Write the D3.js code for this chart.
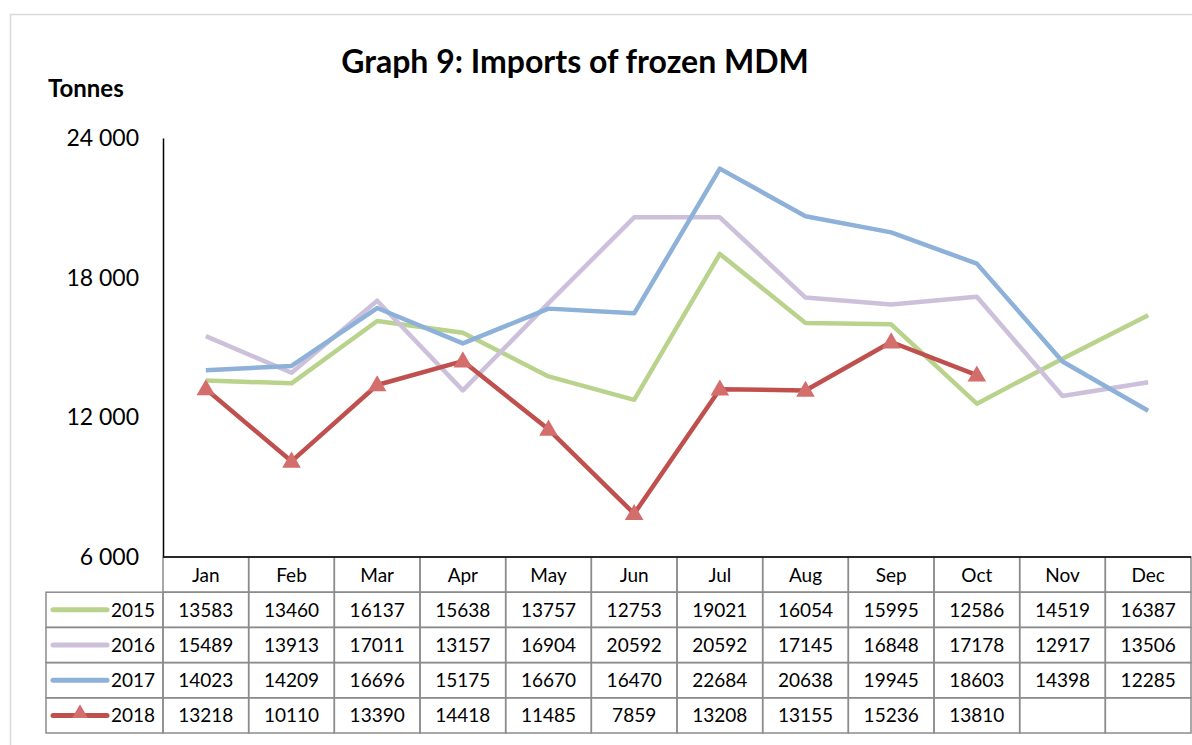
<!DOCTYPE html>
<html>
<head>
<meta charset="utf-8">
<script src="https://cdn.jsdelivr.net/npm/d3@7"></script>
<style>
  body { margin: 0; background: #fff; }
  svg { font-family: Lato, "Open Sans", sans-serif; }
</style>
</head>
<body>
<svg width="1192" height="745"></svg>
<script>
var months = ["Jan", "Feb", "Mar", "Apr", "May", "Jun", "Jul", "Aug", "Sep", "Oct", "Nov", "Dec"];
var years = ["2015", "2016", "2017", "2018"];
var v2015 = [13583, 13460, 16137, 15638, 13757, 12753, 19021, 16054, 15995, 12586, 14519, 16387];
var v2016 = [15489, 13913, 17011, 13157, 16904, 20592, 20592, 17145, 16848, 17178, 12917, 13506];
var v2017 = [14023, 14209, 16696, 15175, 16670, 16470, 22684, 20638, 19945, 18603, 14398, 12285];
var v2018 = [13218, 10110, 13390, 14418, 11485, 7859, 13208, 13155, 15236, 13810, null, null];
var yTicks = [6000, 12000, 18000, 24000];
var colors = ["#b9d38c", "#ccc0da", "#8db1d9", "#c0504d"];

var series = [v2015, v2016, v2017, v2018];

var svg = d3.select("svg");
var margin = { left: 163, right: 1191, top: 138, bottom: 557 };

// outer frame
svg.append("rect")
    .attr("x", 10.5).attr("y", 14.5)
    .attr("width", 1200).attr("height", 760)
    .attr("fill", "none").attr("stroke", "#d9d9d9").attr("stroke-width", 1.5);

svg.append("text")
    .attr("x", 575).attr("y", 73)
    .attr("text-anchor", "middle")
    .attr("font-size", 32).attr("font-weight", "bold")
    .text("Graph 9: Imports of frozen MDM");

svg.append("text")
    .attr("x", 48).attr("y", 97)
    .attr("font-size", 24).attr("font-weight", "bold")
    .text("Tonnes");

var x = d3.scaleBand()
    .domain(months)
    .range([margin.left, margin.right]);

var y = d3.scaleLinear()
    .domain([6000, 24000])
    .range([margin.bottom, margin.top]);

// y axis
var yAxis = d3.axisLeft(y)
    .tickValues(yTicks)
    .tickSize(0)
    .tickPadding(24)
    .tickFormat(function (d) { return d3.format(",")(d).replace(",", " "); });
var yGroup = svg.append("g")
    .attr("transform", "translate(" + margin.left + ",0)")
    .call(yAxis);
yGroup.select(".domain").attr("stroke", "#000").attr("stroke-width", 1.5);
yGroup.selectAll("text")
    .attr("font-size", 23)
    .attr("font-family", "Lato, 'Open Sans', sans-serif")
    .attr("fill", "#000");

// lines
var line = d3.line()
    .defined(function (d) { return d != null; })
    .x(function (d, i) { return x(months[i]) + x.bandwidth() / 2; })
    .y(function (d) { return y(d); });

series.forEach(function (s, k) {
    svg.append("path")
        .datum(s)
        .attr("fill", "none")
        .attr("stroke", colors[k])
        .attr("stroke-width", 4.5)
        .attr("stroke-linejoin", "round")
        .attr("d", line);
});

// triangles for 2018
var tri = d3.symbol().type(d3.symbolTriangle).size(150);
svg.append("g").selectAll("path.marker")
    .data(v2018.map(function (d, i) { return { v: d, m: months[i] }; }).filter(function (d) { return d.v != null; }))
    .enter()
    .append("path")
    .attr("class", "marker")
    .attr("d", tri)
    .attr("fill", "#d46e6c")
    .attr("transform", function (d) {
        return "translate(" + (x(d.m) + x.bandwidth() / 2) + "," + (y(d.v) + 1) + ")";
    });

// data table
var rowH = 35.2;
var tableTop = margin.bottom;
var legendLeft = 46;
var grid = svg.append("g");
var gridColor = "#8c8c8c";

// header row
months.forEach(function (m) {
    grid.append("rect")
        .attr("x", x(m)).attr("y", tableTop)
        .attr("width", x.bandwidth()).attr("height", rowH)
        .attr("fill", "none").attr("stroke", gridColor).attr("stroke-width", 1.5);
    grid.append("text")
        .attr("x", x(m) + x.bandwidth() / 2).attr("y", tableTop + rowH / 2 + 7)
        .attr("text-anchor", "middle").attr("font-size", 19)
        .text(m);
});

years.forEach(function (yr, k) {
    var ry = tableTop + rowH * (k + 1);
    grid.append("rect")
        .attr("x", legendLeft).attr("y", ry)
        .attr("width", margin.left - legendLeft).attr("height", rowH)
        .attr("fill", "none").attr("stroke", gridColor).attr("stroke-width", 1.5);
    grid.append("line")
        .attr("x1", 53).attr("x2", 107)
        .attr("y1", ry + rowH / 2).attr("y2", ry + rowH / 2)
        .attr("stroke", colors[k]).attr("stroke-width", 5).attr("stroke-linecap", "round");
    if (yr === "2018") {
        grid.append("path")
            .attr("d", d3.symbol().type(d3.symbolTriangle).size(110))
            .attr("fill", "#d46e6c")
            .attr("transform", "translate(80," + (ry + rowH / 2 - 2) + ")");
    }
    grid.append("text")
        .attr("x", 111).attr("y", ry + rowH / 2 + 7)
        .attr("font-size", 19)
        .text(yr);
    months.forEach(function (m, i) {
        grid.append("rect")
            .attr("x", x(m)).attr("y", ry)
            .attr("width", x.bandwidth()).attr("height", rowH)
            .attr("fill", "none").attr("stroke", gridColor).attr("stroke-width", 1.5);
        var v = series[k][i];
        if (v != null) {
            grid.append("text")
                .attr("x", x(m) + x.bandwidth() / 2).attr("y", ry + rowH / 2 + 7)
                .attr("text-anchor", "middle").attr("font-size", 19)
                .text(v);
        }
    });
});

// x axis line on top of the table
svg.append("line")
    .attr("x1", margin.left).attr("x2", margin.right)
    .attr("y1", margin.bottom).attr("y2", margin.bottom)
    .attr("stroke", "#000").attr("stroke-width", 1.5);
</script>
</body>
</html>
